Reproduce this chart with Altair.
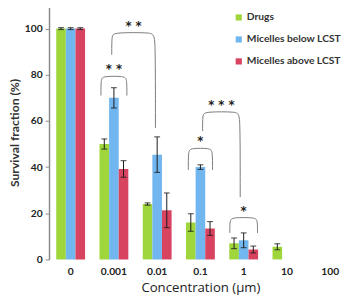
import altair as alt
import pandas as pd

categories = ["0", "0.001", "0.01", "0.1", "1", "10", "100"]
series = ["Drugs", "Micelles below LCST", "Micelles above LCST"]
drugs = [100, 50, 24, 16, 7, 5.5, 0]
below = [100, 70, 45.4, 40, 8.3, 0, 0]
above = [100, 39.2, 21.3, 13.4, 4.3, 0, 0]
drugs_err = [0.4, 2.2, 0.5, 3.8, 2.3, 1.3, None]
below_err = [0.4, 4.4, 7.7, 1.0, 3.2, None, None]
above_err = [0.4, 3.6, 7.5, 3.0, 1.5, None, None]
colors = ["#9fd63c", "#72b6ef", "#d8435f"]

# significance brackets (anchored to category + fraction of category step)
br_left_cat = ["0.001", "0.001", "0.1", "0.1", "1"]
br_left_off = [-0.3, -0.05, -0.28, 0.05, -0.32]
br_right_cat = ["0.001", "0.01", "0.1", "1", "1"]
br_right_off = [0.3, -0.04, 0.28, -0.08, 0.32]
br_top = [79.4, 98.3, 48.2, 64, 18.2]
br_left_bot = [71, 88.7, 38.8, 55.6, 11.5]
br_right_bot = [71, 57, 38.8, 27, 11.5]
br_label = ["* *", "* *", "*", "* * *", "*"]

rows = []
for s, vals, errs in zip(series, [drugs, below, above], [drugs_err, below_err, above_err]):
    for c, v, e in zip(categories, vals, errs):
        rows.append({"cat": c, "series": s, "value": v,
                     "lo": None if e is None else v - e,
                     "hi": None if e is None else v + e})
df = pd.DataFrame(rows)
err_df = df.dropna(subset=["lo"])
cap_df = pd.concat([
    err_df[["cat", "series", "lo"]].rename(columns={"lo": "cap"}),
    err_df[["cat", "series", "hi"]].rename(columns={"hi": "cap"}),
])

line_rows = []
text_rows = []
ry, rx = 1.3, 0.05
for i in range(len(br_label)):
    xl = categories.index(br_left_cat[i]) + 0.5 + br_left_off[i]
    xr = categories.index(br_right_cat[i]) + 0.5 + br_right_off[i]
    top = br_top[i]
    pts = [(xl, br_left_bot[i]), (xl, top - ry), (xl + rx, top),
           (xr - rx, top), (xr, top - ry), (xr, br_right_bot[i])]
    for k, (px, py) in enumerate(pts):
        line_rows.append({"bid": i, "ord": k, "bx": px, "by": py})
    text_rows.append({"bx": (xl + xr) / 2, "by": top, "label": br_label[i]})
line_df = pd.DataFrame(line_rows)
text_df = pd.DataFrame(text_rows)

yscale = alt.Scale(domain=[0, 110], nice=False)
font = "Lato"

xnom = alt.X("cat:N", sort=categories,
             scale=alt.Scale(paddingInner=0, paddingOuter=0),
             axis=alt.Axis(domain=False, ticks=False, labelAngle=0,
                           labelFont=font, labelFontWeight="bold",
                           labelFontSize=10.5, labelColor="#222",
                           labelPadding=7, title="Concentration (µm)",
                           titleFont="Open Sans", titleFontWeight="normal",
                           titleFontSize=13.5, titleColor="#222",
                           titlePadding=4))
xoff = alt.XOffset("series:N", sort=series,
                   scale=alt.Scale(paddingInner=0, paddingOuter=0.75))
ytitle = "Survival fraction (%)"

bars = alt.Chart(df).mark_bar().encode(
    x=xnom,
    xOffset=xoff,
    y=alt.Y("value:Q", scale=yscale, title=ytitle,
            axis=alt.Axis(values=[0, 20, 40, 60, 80, 100], grid=False,
                          domainColor="#8a8a8a", domainWidth=1.5,
                          tickColor="#8a8a8a", tickSize=4,
                          labelFont=font, labelFontWeight="bold",
                          labelFontSize=10.5, labelColor="#222",
                          labelPadding=3, titleFont=font,
                          titleFontWeight="bold", titleFontSize=12.5,
                          titleColor="#333", titlePadding=3)),
    color=alt.Color("series:N", sort=series,
                    scale=alt.Scale(domain=series, range=colors),
                    legend=alt.Legend(title=None, orient="none",
                                      legendX=189, legendY=7,
                                      symbolType="square", symbolSize=40,
                                      symbolStrokeWidth=0, rowPadding=11.5,
                                      labelOffset=3, padding=0,
                                      labelFont=font, labelFontWeight="bold",
                                      labelFontSize=10.5, labelColor="#333")),
)

rules = alt.Chart(err_df).mark_rule(color="#1a1a1a", strokeWidth=1).encode(
    x=alt.X("cat:N", sort=categories), xOffset=xoff,
    y=alt.Y("lo:Q", scale=yscale, title=ytitle), y2="hi:Q",
)
caps = alt.Chart(cap_df).mark_tick(color="#1a1a1a", thickness=1.2, size=6).encode(
    x=alt.X("cat:N", sort=categories), xOffset=xoff,
    y=alt.Y("cap:Q", scale=yscale, title=ytitle),
)
group_a = alt.layer(bars, rules, caps)

xq = alt.X("bx:Q", scale=alt.Scale(domain=[0, 7], nice=False, zero=False),
           axis=alt.Axis(values=list(range(8)), labels=False, grid=False,
                         domainColor="#8a8a8a", domainWidth=1.5,
                         tickColor="#8a8a8a", tickSize=4, title=None))
lines = alt.Chart(line_df).mark_line(color="#7a7a7a", strokeWidth=1,
                                     interpolate="basis").encode(
    x=xq,
    y=alt.Y("by:Q", scale=yscale, title=ytitle),
    detail="bid:N",
    order="ord:Q",
)
texts = alt.Chart(text_df).mark_text(font="DejaVu Sans", fontWeight="bold",
                                     fontSize=12, color="#222",
                                     baseline="alphabetic", dy=-3).encode(
    x=alt.X("bx:Q", scale=alt.Scale(domain=[0, 7], nice=False, zero=False), axis=None),
    y=alt.Y("by:Q", scale=yscale, title=ytitle),
    text="label:N",
)
group_b = alt.layer(lines, texts)

chart = alt.layer(group_a, group_b).resolve_scale(x="independent").properties(
    width=344, height=289,
    autosize=alt.AutoSizeParams(type="fit", contains="padding"),
    padding={"left": 0, "top": -6, "right": -8, "bottom": 0},
).configure_view(stroke=None)

chart.save("out.html", embed_options={"renderer": "svg", "actions": False})
